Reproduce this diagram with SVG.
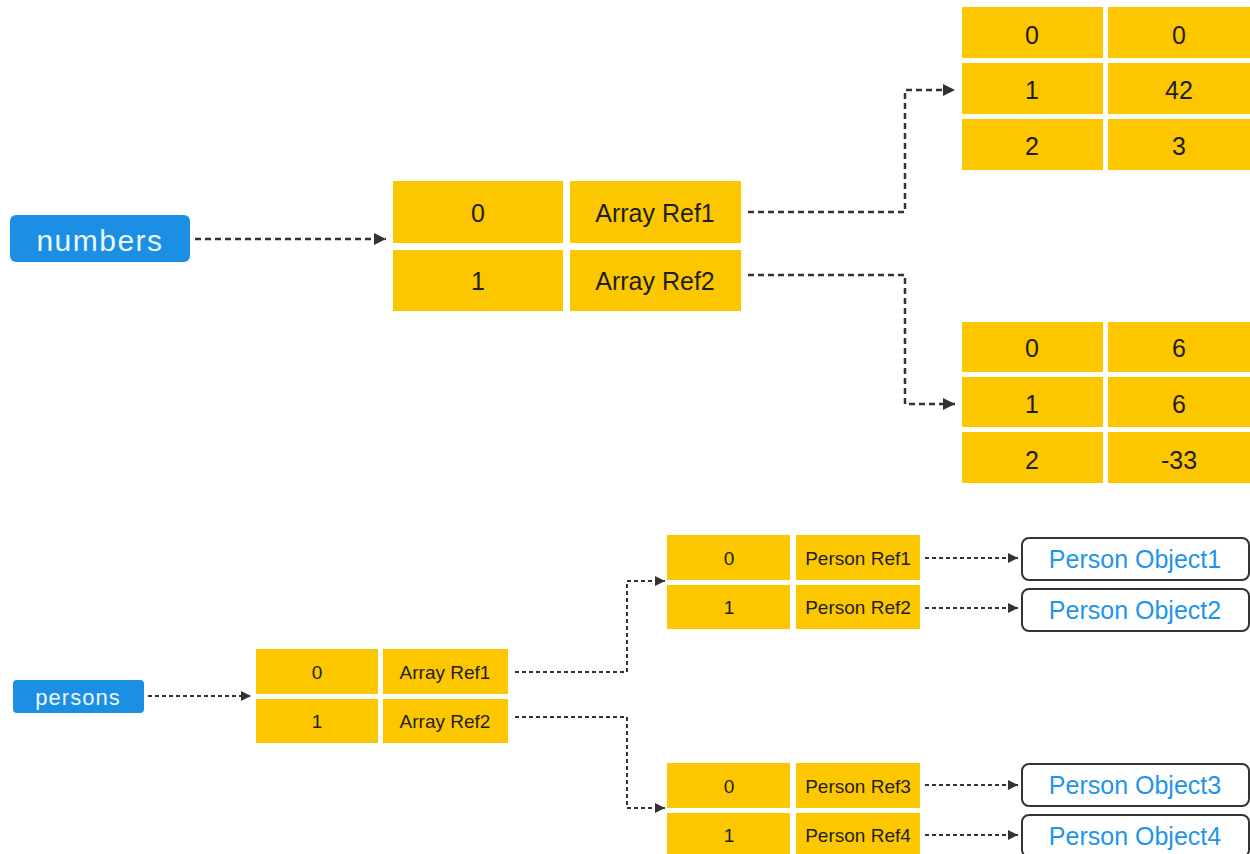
<svg xmlns="http://www.w3.org/2000/svg" width="1250" height="854" viewBox="0 0 1250 854">
<style>
.c{fill:#fdc700}
.t{font-family:"Liberation Sans",Arial,sans-serif;fill:#1e1e1e;text-anchor:middle;dominant-baseline:central}
.big{font-size:25px}
.mid{font-size:19px}
.node{fill:#1a8fe3}
.nt{font-family:"Liberation Sans",Arial,sans-serif;fill:#eef6ff;text-anchor:middle;dominant-baseline:central}
.obj{fill:#fff;stroke:#333;stroke-width:2}
.ot{font-family:"Liberation Sans",Arial,sans-serif;fill:#1e95ea;font-size:25px;text-anchor:middle;dominant-baseline:central}
.d1{fill:none;stroke:#333;stroke-width:2.5;stroke-dasharray:6 4}
.d2{fill:none;stroke:#333;stroke-width:2;stroke-dasharray:4 3}
</style>
<defs>
<marker id="ah" viewBox="0 0 10 10" refX="10" refY="5" markerWidth="10" markerHeight="10" markerUnits="userSpaceOnUse" orient="auto">
<path d="M0,0 L10,5 L0,10 Z" fill="#333"/>
</marker>
<marker id="ahb" viewBox="0 0 10 10" refX="10" refY="5" markerWidth="12" markerHeight="12" markerUnits="userSpaceOnUse" orient="auto">
<path d="M0,0 L10,5 L0,10 Z" fill="#333"/>
</marker>
</defs>
<rect width="1250" height="854" fill="#fff"/>

<g id="connectors">
<path class="d1" d="M195,239 H386" marker-end="url(#ahb)"/>
<path class="d1" d="M748,212 H905 V90 H955" marker-end="url(#ahb)"/>
<path class="d1" d="M748,275 H905 V404 H955" marker-end="url(#ahb)"/>
<path class="d2" d="M148,696 H251" marker-end="url(#ah)"/>
<path class="d2" d="M515,672 H627 V581 H665" marker-end="url(#ah)"/>
<path class="d2" d="M515,717 H627 V808 H665" marker-end="url(#ah)"/>
<path class="d2" d="M925,558 H1018" marker-end="url(#ah)"/>
<path class="d2" d="M925,608 H1018" marker-end="url(#ah)"/>
<path class="d2" d="M925,785 H1018" marker-end="url(#ah)"/>
<path class="d2" d="M925,835 H1018" marker-end="url(#ah)"/>
</g>

<g id="numbers">
<rect class="node" x="10" y="215" width="180" height="47" rx="6"/>
<text class="nt" x="100" y="240" font-size="30" letter-spacing="1.5">numbers</text>
</g>

<g id="numbers-array">
<rect class="c" x="393" y="181" width="170" height="62"/>
<rect class="c" x="570" y="181" width="171" height="62"/>
<rect class="c" x="393" y="250" width="170" height="61"/>
<rect class="c" x="570" y="250" width="171" height="61"/>
<text class="t big" x="478" y="213">0</text>
<text class="t big" x="655" y="213">Array Ref1</text>
<text class="t big" x="478" y="281">1</text>
<text class="t big" x="655" y="281">Array Ref2</text>
</g>

<g id="array1">
<rect class="c" x="962" y="7" width="141" height="51"/>
<rect class="c" x="1108" y="7" width="142" height="51"/>
<rect class="c" x="962" y="63" width="141" height="51"/>
<rect class="c" x="1108" y="63" width="142" height="51"/>
<rect class="c" x="962" y="119" width="141" height="51"/>
<rect class="c" x="1108" y="119" width="142" height="51"/>
<text class="t big" x="1032" y="35">0</text>
<text class="t big" x="1179" y="35">0</text>
<text class="t big" x="1032" y="90">1</text>
<text class="t big" x="1179" y="90">42</text>
<text class="t big" x="1032" y="146">2</text>
<text class="t big" x="1179" y="146">3</text>
</g>

<g id="array2">
<rect class="c" x="962" y="322" width="141" height="50"/>
<rect class="c" x="1108" y="322" width="142" height="50"/>
<rect class="c" x="962" y="377" width="141" height="50"/>
<rect class="c" x="1108" y="377" width="142" height="50"/>
<rect class="c" x="962" y="432" width="141" height="51"/>
<rect class="c" x="1108" y="432" width="142" height="51"/>
<text class="t big" x="1032" y="348">0</text>
<text class="t big" x="1179" y="348">6</text>
<text class="t big" x="1032" y="404">1</text>
<text class="t big" x="1179" y="404">6</text>
<text class="t big" x="1032" y="460">2</text>
<text class="t big" x="1179" y="460">-33</text>
</g>

<g id="persons">
<rect class="node" x="13" y="680" width="131" height="33" rx="4"/>
<text class="nt" x="78" y="697" font-size="22" letter-spacing="1">persons</text>
</g>

<g id="persons-array">
<rect class="c" x="256" y="649" width="122" height="45"/>
<rect class="c" x="383" y="649" width="125" height="45"/>
<rect class="c" x="256" y="699" width="122" height="44"/>
<rect class="c" x="383" y="699" width="125" height="44"/>
<text class="t mid" x="317" y="672">0</text>
<text class="t mid" x="445" y="672">Array Ref1</text>
<text class="t mid" x="317" y="721">1</text>
<text class="t mid" x="445" y="721">Array Ref2</text>
</g>

<g id="person-refs1">
<rect class="c" x="667" y="535" width="123" height="45"/>
<rect class="c" x="796" y="535" width="124" height="45"/>
<rect class="c" x="667" y="585" width="123" height="44"/>
<rect class="c" x="796" y="585" width="124" height="44"/>
<text class="t mid" x="729" y="558">0</text>
<text class="t mid" x="858" y="558">Person Ref1</text>
<text class="t mid" x="729" y="607">1</text>
<text class="t mid" x="858" y="607">Person Ref2</text>
</g>

<g id="person-refs2">
<rect class="c" x="667" y="763" width="123" height="45"/>
<rect class="c" x="796" y="763" width="124" height="45"/>
<rect class="c" x="667" y="813" width="123" height="44"/>
<rect class="c" x="796" y="813" width="124" height="44"/>
<text class="t mid" x="729" y="786">0</text>
<text class="t mid" x="858" y="786">Person Ref3</text>
<text class="t mid" x="729" y="835">1</text>
<text class="t mid" x="858" y="835">Person Ref4</text>
</g>

<g id="person-object1">
<rect class="obj" x="1022" y="538" width="227" height="42" rx="7"/>
<text class="ot" x="1135" y="559">Person Object1</text>
</g>
<g id="person-object2">
<rect class="obj" x="1022" y="589" width="227" height="42" rx="7"/>
<text class="ot" x="1135" y="610">Person Object2</text>
</g>
<g id="person-object3">
<rect class="obj" x="1022" y="764" width="227" height="42" rx="7"/>
<text class="ot" x="1135" y="785">Person Object3</text>
</g>
<g id="person-object4">
<rect class="obj" x="1022" y="815" width="227" height="42" rx="7"/>
<text class="ot" x="1135" y="836">Person Object4</text>
</g>
</svg>
